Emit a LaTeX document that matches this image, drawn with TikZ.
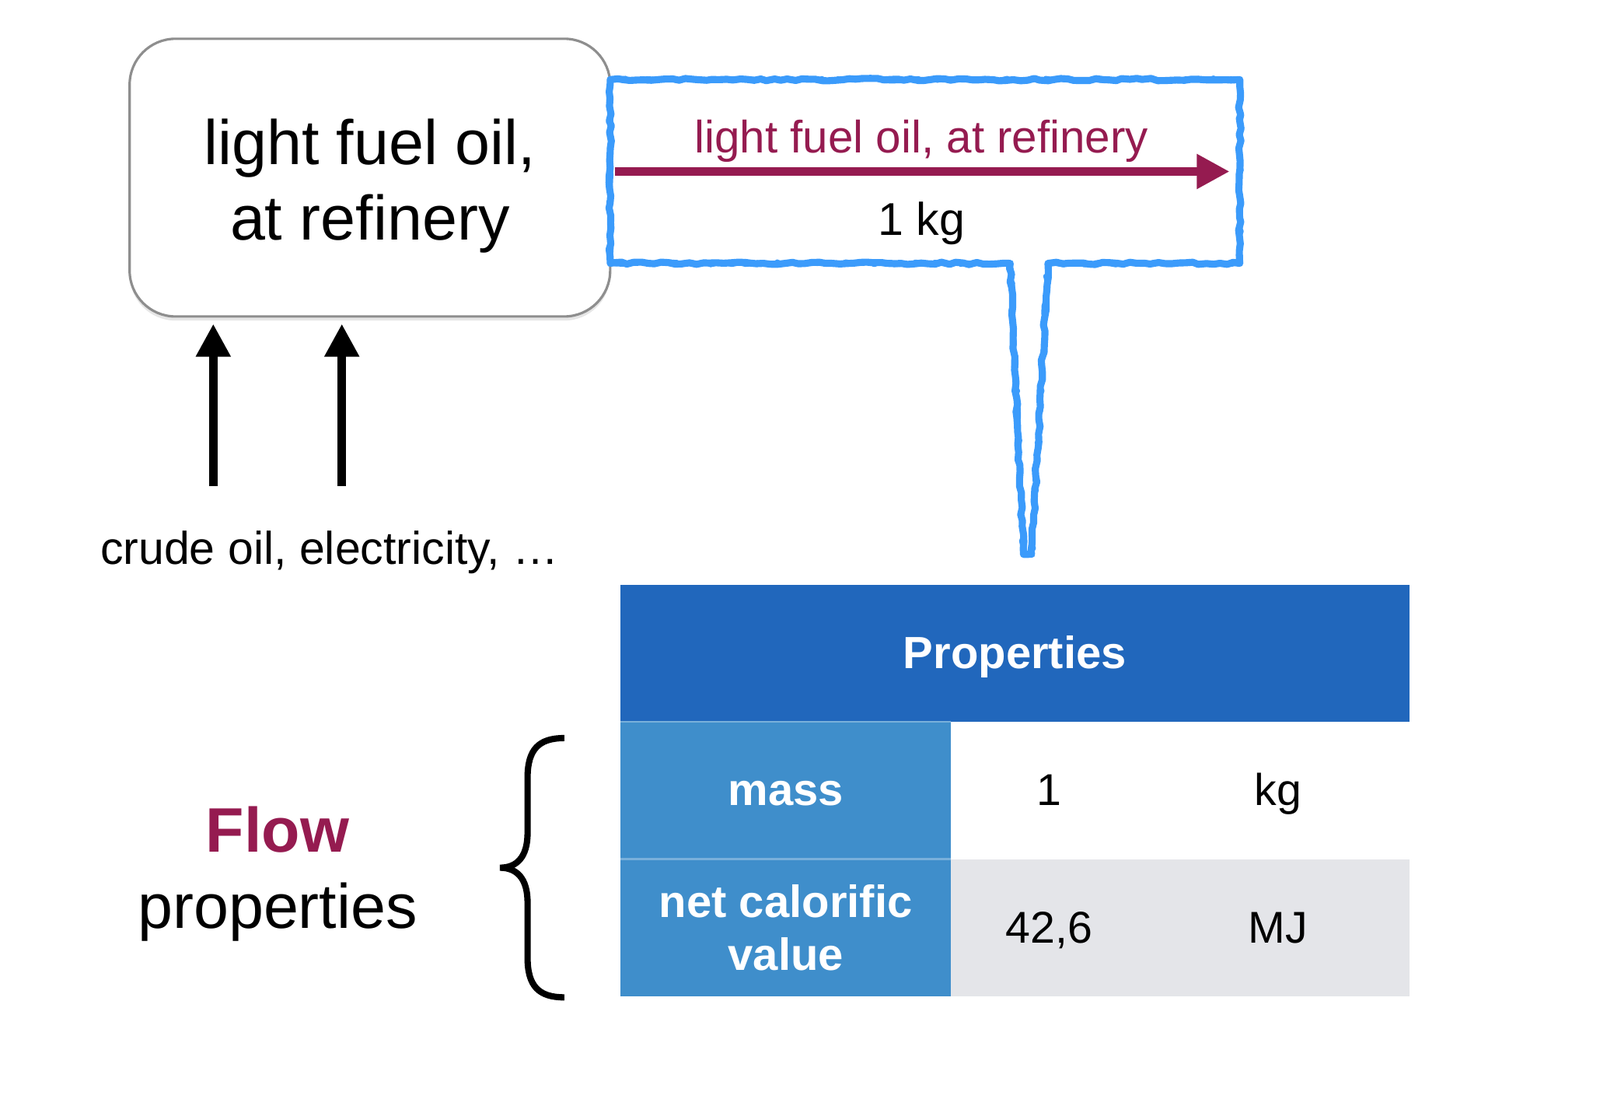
\documentclass[tikz,border=0pt]{standalone}
\usepackage{fontspec}
\setmainfont{Liberation Sans}
\usepackage{tikz}
\usetikzlibrary{arrows.meta,positioning,calc,decorations.pathmorphing,shadows}
\definecolor{maroon}{HTML}{951B50}
\definecolor{sky}{HTML}{3B9BFB}
\definecolor{header}{HTML}{2167BC}
\definecolor{keycol}{HTML}{3F8ECB}
\definecolor{shade}{HTML}{E4E5E9}
\definecolor{frame}{HTML}{8E8E8E}

\begin{document}
\begin{tikzpicture}[x=0.013125cm,y=-0.013125cm,
  procbox/.style={draw=frame,line width=0.9pt,rounded corners=0.59cm,fill=white,minimum width=6.18cm,minimum height=3.57cm,drop shadow={shadow xshift=0pt,shadow yshift=-1.5pt,opacity=0.2}},
  inarrow/.style={line width=3pt,-{Triangle[length=12pt,width=12pt]}},
  sketch/.style={draw=sky,line join=round,decorate,decoration={random steps,segment length=2.5pt,amplitude=#1}},
  cell/.style={rectangle,anchor=north west,inner sep=0pt,outer sep=0pt,minimum height=1.765cm,font=\fontsize{16.3}{19}\selectfont},
  oneline/.style={text height=13.2pt,text depth=2.2pt},
  keycell/.style={cell,fill=keycol,text=white,minimum width=4.2525cm,align=center,font=\fontsize{16.5}{19.4}\selectfont\bfseries}]
  \useasboundingbox (0,0) rectangle (1568,1076);

  % process and its inputs
  \node[procbox] (proc) at (362.5,174) {};
  \node[align=center,font=\fontsize{23}{27.6}\selectfont] (procname) at ($(proc.center)+(0,8)$) {light fuel oil,\\at refinery};
  \coordinate (in1) at (209,476);
  \coordinate (in2) at (335,476);
  \foreach \c in {in1,in2} { \draw[inarrow] (\c) -- ($(\c |- proc.south)+(0,6)$); }
  \node[font=\fontsize{16.8}{20}\selectfont] (inputs) at (323,541) {crude oil, electricity, …};

  % callout round the reference flow
  \coordinate (cnw) at (598,78);
  \coordinate (cse) at (1215,258);
  \coordinate (tl) at (990,258);
  \coordinate (tr) at (1027,258);
  \coordinate (tipl) at (1003,543);
  \coordinate (tipr) at (1011,543);
  \foreach \w/\a in {2.6pt/0.45pt,1pt/1pt} {
    \draw[sketch=\a,line width=\w] (tl) -- (cnw |- cse) -- (cnw) -- (cse |- cnw) -- (cse) -- (tr) -- (tipr) -- (tipl) -- cycle;
  }
  \coordinate (fl) at (603,168);
  \coordinate (fr) at (1205,168);
  \draw[maroon,line width=3pt,-{Triangle[length=12pt,width=12pt]}] (fl) -- (fr);
  \node[text=maroon,font=\fontsize{16.6}{20}\selectfont] (flowname) at (903,138) {light fuel oil, at refinery};
  \node[font=\fontsize{16.8}{20}\selectfont] (flowamt) at (903,219) {1 kg};

  % property table
  \node[cell,oneline,fill=header,minimum width=10.146cm,minimum height=1.759cm,text=white,font=\fontsize{16.5}{20}\selectfont\bfseries] (head) at (608,573) {Properties};
  \node[keycell,oneline] (mass) at (head.south west) {mass};
  \node[keycell] (ncv) at (mass.south west) {net calorific\\value};
  \node[cell,oneline,fill=white,minimum width=2.52cm] (m1) at (mass.north east) {1};
  \node[cell,oneline,fill=white,minimum width=3.374cm] (m2) at (m1.north east) {kg};
  \node[cell,oneline,fill=shade,minimum width=2.52cm] (n1) at (ncv.north east) {42,6};
  \node[cell,oneline,fill=shade,minimum width=3.374cm] (n2) at (n1.north east) {MJ};
  \draw[color=keycol!70!white,line width=0.6pt] (head.south west) -- (head.south -| mass.east) (mass.south west) -- (mass.south east);

  % brace and label
  \coordinate (bt) at (553,723);
  \coordinate (bm) at (490,850);
  \coordinate (bb) at (553,977);
  \draw[line width=2.3pt] (bt) .. controls (528,723) and (517,734) .. (517,762) -- (517,816)
    .. controls (517,840) and (506,850) .. (bm) .. controls (506,850) and (517,860) .. (517,884)
    -- (517,938) .. controls (517,966) and (528,977) .. (bb);
  \node[align=center,font=\fontsize{23}{28}\selectfont] (flowlab) at (272,856) {\textbf{\color{maroon}Flow}\\properties};
\end{tikzpicture}
\end{document}
